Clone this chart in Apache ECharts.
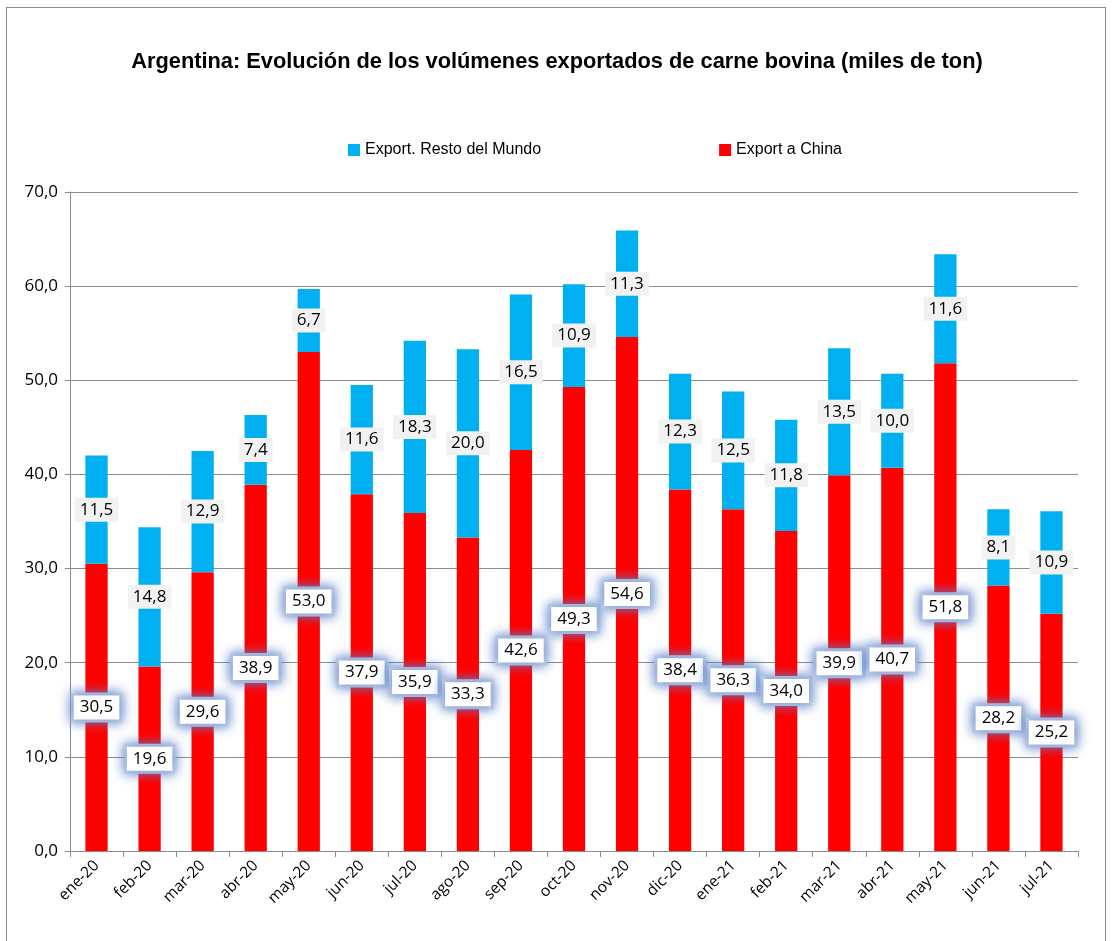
<!DOCTYPE html>
<html><head><meta charset="utf-8">
<script src="https://cdn.jsdelivr.net/npm/echarts@6/dist/echarts.min.js"></script>
<style>
html,body{margin:0;padding:0;background:#fff;}
#frame{position:absolute;left:6px;top:7px;width:1100px;height:940px;border:1px solid #8c8c8c;box-sizing:border-box;}
#c{position:absolute;left:0;top:0;width:1114px;height:941px;}
</style></head>
<body>
<div id="frame"></div>
<div id="c"></div>
<script>
const categories = ['ene-20','feb-20','mar-20','abr-20','may-20','jun-20','jul-20','ago-20','sep-20','oct-20','nov-20','dic-20','ene-21','feb-21','mar-21','abr-21','may-21','jun-21','jul-21'];
const china = [30.5,19.6,29.6,38.9,53.0,37.9,35.9,33.3,42.6,49.3,54.6,38.4,36.3,34.0,39.9,40.7,51.8,28.2,25.2];
const resto = [11.5,14.8,12.9,7.4,6.7,11.6,18.3,20.0,16.5,10.9,11.3,12.3,12.5,11.8,13.5,10.0,11.6,8.1,10.9];
const yTicks = [0,10,20,30,40,50,60,70];

const fmt = v => v.toFixed(1).replace('.', ',');
const chart = echarts.init(document.getElementById('c'), null, {renderer:'canvas'});
const baseFont = "'Liberation Sans Narrow','Liberation Sans',Arial,sans-serif";
const labelFont = "'Open Sans','Noto Sans',sans-serif";
chart.setOption({
  animation:false,
  backgroundColor:'transparent',
  title:{text:'Argentina: Evolución de los volúmenes exportados de carne bovina (miles de ton)',left:'center',top:46,
    textStyle:{fontFamily:baseFont,fontSize:21.8,fontWeight:'bold',color:'#000'}},
  legend:{data:['Export. Resto del Mundo','Export a China'],left:343,top:137,itemWidth:12,itemHeight:12,itemGap:178,
    icon:'rect',textStyle:{fontFamily:baseFont,fontSize:16,color:'#000'}},
  grid:{left:70,right:36,top:192,bottom:90},
  xAxis:{type:'category',data:categories,
    axisLine:{lineStyle:{color:'#8c8c8c',width:1}},
    axisTick:{show:true,length:6,lineStyle:{color:'#8c8c8c'}},
    axisLabel:{rotate:45,fontFamily:labelFont,fontSize:15.5,color:'#000',margin:12}},
  yAxis:{type:'value',min:yTicks[0],max:yTicks[yTicks.length-1],interval:10,
    axisLine:{show:true,lineStyle:{color:'#8c8c8c'}},
    axisTick:{show:true,length:5,lineStyle:{color:'#8c8c8c'}},
    splitLine:{lineStyle:{color:'#8c8c8c',width:1}},
    axisLabel:{formatter:v=>fmt(v),fontFamily:labelFont,fontSize:17,color:'#000',margin:12}},
  series:[
    {name:'Export a China',type:'bar',stack:'t',data:china,barWidth:'42%',
     itemStyle:{color:'#ff0000'},
     label:{show:true,position:'inside',formatter:p=>fmt(p.value),fontFamily:labelFont,fontSize:17,color:'#000',
       backgroundColor:'#fff',padding:[4,6,3,6],shadowColor:'rgba(90,130,200,0.9)',shadowBlur:12,
       borderColor:'#c5d3ea',borderWidth:3}},
    {name:'Export. Resto del Mundo',type:'bar',stack:'t',data:resto,barWidth:'42%',
     itemStyle:{color:'#00b0f0'},
     label:{show:true,position:'inside',formatter:p=>fmt(p.value),fontFamily:labelFont,fontSize:17,color:'#000',
       backgroundColor:'#f2f2f2',padding:[4,5,3,5]}}
  ]
});
</script>
</body></html>
